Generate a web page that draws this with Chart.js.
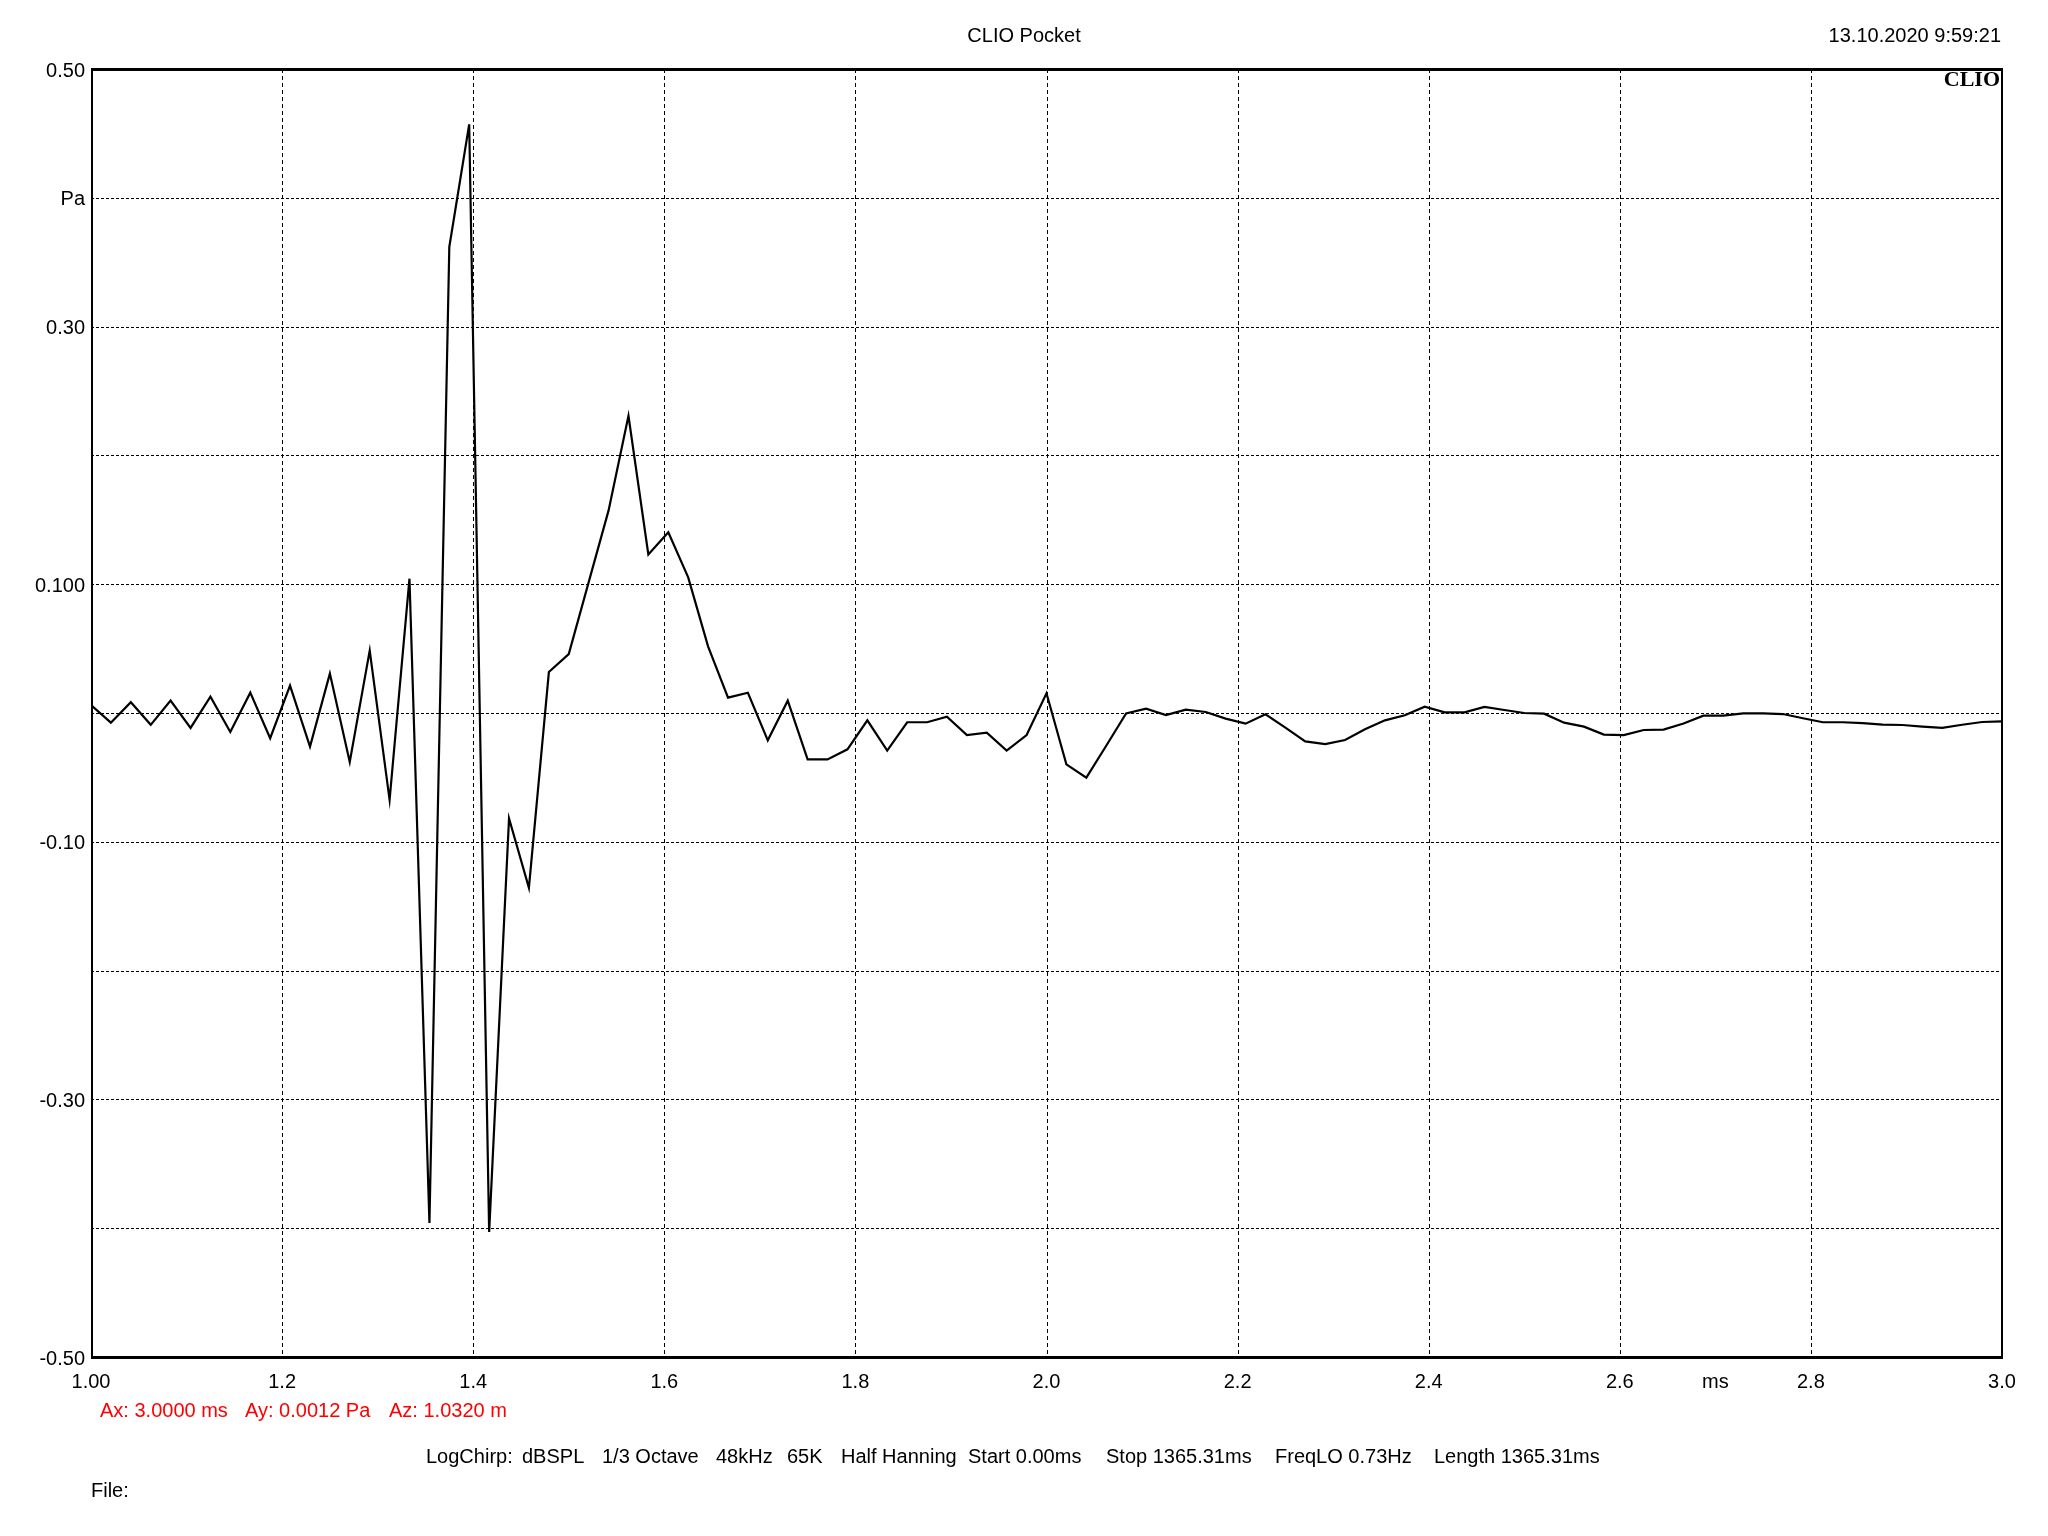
<!DOCTYPE html>
<html>
<head>
<meta charset="utf-8">
<script src="https://cdn.jsdelivr.net/npm/chart.js@4.4.1/dist/chart.umd.min.js"></script>
<style>
  html, body { margin: 0; padding: 0; background: #ffffff; }
  canvas { display: block; }
</style>
</head>
<body>
<canvas id="c" width="2048" height="1536"></canvas>
<script>
// ---- Data (sample times in ms, 48 kHz sampling) ----
const timesMs = [
  1.0000, 1.0208, 1.0417, 1.0625, 1.0833, 1.1042, 1.1250, 1.1458, 1.1667, 1.1875,
  1.2083, 1.2292, 1.2500, 1.2708, 1.2917, 1.3125, 1.3333, 1.3542, 1.3750, 1.3958,
  1.4167, 1.4375, 1.4583, 1.4792, 1.5000, 1.5208, 1.5417, 1.5625, 1.5833, 1.6042,
  1.6250, 1.6458, 1.6667, 1.6875, 1.7083, 1.7292, 1.7500, 1.7708, 1.7917, 1.8125,
  1.8333, 1.8542, 1.8750, 1.8958, 1.9167, 1.9375, 1.9583, 1.9792, 2.0000, 2.0208,
  2.0417, 2.0625, 2.0833, 2.1042, 2.1250, 2.1458, 2.1667, 2.1875, 2.2083, 2.2292,
  2.2500, 2.2708, 2.2917, 2.3125, 2.3333, 2.3542, 2.3750, 2.3958, 2.4167, 2.4375,
  2.4583, 2.4792, 2.5000, 2.5208, 2.5417, 2.5625, 2.5833, 2.6042, 2.6250, 2.6458,
  2.6667, 2.6875, 2.7083, 2.7292, 2.7500, 2.7708, 2.7917, 2.8125, 2.8333, 2.8542,
  2.8750, 2.8958, 2.9167, 2.9375, 2.9583, 2.9792, 3.0000
];
const pressurePa = [
  0.0062, -0.0075, 0.0084, -0.0092, 0.0096, -0.0116, 0.0127, -0.0147, 0.0158, -0.0196,
  0.0213, -0.0261, 0.0306, -0.0380, 0.0484, -0.0675, 0.1043, -0.3960, 0.3620, 0.4570,
  -0.4030, -0.0818, -0.1358, 0.0318, 0.0457, 0.1014, 0.1573, 0.2307, 0.1231, 0.1403,
  0.1053, 0.0518, 0.0119, 0.0157, -0.0212, 0.0096, -0.0360, -0.0360, -0.0282, -0.0057,
  -0.0292, -0.0072, -0.0072, -0.0028, -0.0171, -0.0153, -0.0292, -0.0171, 0.0153, -0.0399,
  -0.0502, -0.0254, -0.0003, 0.0034, -0.0016, 0.0026, 0.0008, -0.0044, -0.0083, -0.0010,
  -0.0114, -0.0220, -0.0241, -0.0210, -0.0127, -0.0057, -0.0018, 0.0049, 0.0005, 0.0005,
  0.0047, 0.0023, 0.0000, -0.0005, -0.0075, -0.0106, -0.0168, -0.0171, -0.0132, -0.0129,
  -0.0082, -0.0021, -0.0021, -0.0003, -0.0003, -0.0008, -0.0041, -0.0072, -0.0072, -0.0078,
  -0.0091, -0.0093, -0.0106, -0.0116, -0.0091, -0.0070, -0.0065
];

// ---- Tick labels ----
const xTickValues = [1.0, 1.2, 1.4, 1.6, 1.8, 2.0, 2.2, 2.4, 2.6, 2.7, 2.8, 3.0];
const xTickLabels = ["1.00", "1.2", "1.4", "1.6", "1.8", "2.0", "2.2", "2.4", "2.6", "ms", "2.8", "3.0"];
const xGridValues = [1.2, 1.4, 1.6, 1.8, 2.0, 2.2, 2.4, 2.6, 2.8];
const yTickValues = [0.5, 0.4, 0.3, 0.2, 0.1, 0.0, -0.1, -0.2, -0.3, -0.4, -0.5];
const yTickLabels = ["0.50", "Pa", "0.30", "", "0.100", "", "-0.10", "", "-0.30", "", "-0.50"];
const yGridValues = [0.4, 0.3, 0.2, 0.1, 0.0, -0.1, -0.2, -0.3, -0.4];

// ---- Texts ----
const titleText = "CLIO Pocket";
const dateText = "13.10.2020 9:59:21";
const logoText = "CLIO";
const cursorTexts = ["Ax: 3.0000 ms", "Ay: 0.0012 Pa", "Az: 1.0320 m"];
const footerTexts = ["LogChirp:", "dBSPL", "1/3 Octave", "48kHz", "65K", "Half Hanning",
  "Start 0.00ms", "Stop 1365.31ms", "FreqLO 0.73Hz", "Length 1365.31ms"];
const fileText = "File:";

const FONT = '"Liberation Sans", Arial, sans-serif';

const points = timesMs.map((t, i) => ({ x: t, y: pressurePa[i] }));

const decorPlugin = {
  id: 'decor',
  beforeDraw(chart) {
    const ctx = chart.ctx;
    ctx.save();
    ctx.fillStyle = '#ffffff';
    ctx.fillRect(0, 0, chart.width, chart.height);
    ctx.restore();
  },
  beforeDatasetsDraw(chart) {
    const ctx = chart.ctx;
    const a = chart.chartArea;
    const xs = chart.scales.x, ys = chart.scales.y;
    ctx.save();
    ctx.strokeStyle = '#000000';
    ctx.lineWidth = 1;
    ctx.setLineDash([3, 2]);
    yGridValues.forEach(v => {
      const py = Math.round(ys.getPixelForValue(v)) + 0.5;
      ctx.beginPath();
      ctx.moveTo(a.left, py);
      ctx.lineTo(a.right, py);
      ctx.stroke();
    });
    ctx.setLineDash([4, 3]);
    xGridValues.forEach(v => {
      const px = Math.round(xs.getPixelForValue(v)) + 0.5;
      ctx.beginPath();
      ctx.moveTo(px, a.top);
      ctx.lineTo(px, a.bottom);
      ctx.stroke();
    });
    ctx.restore();
  },
  afterDatasetsDraw(chart) {
    const ctx = chart.ctx;
    const a = chart.chartArea;
    ctx.save();
    ctx.strokeStyle = '#000000';
    ctx.setLineDash([]);
    ctx.lineWidth = 3;
    ctx.beginPath();
    ctx.moveTo(a.left, a.top + 0.5); ctx.lineTo(a.right + 1, a.top + 0.5);
    ctx.moveTo(a.left, a.bottom + 0.5); ctx.lineTo(a.right + 1, a.bottom + 0.5);
    ctx.stroke();
    ctx.lineWidth = 2;
    ctx.beginPath();
    ctx.moveTo(a.left + 1, a.top); ctx.lineTo(a.left + 1, a.bottom);
    ctx.moveTo(a.right, a.top); ctx.lineTo(a.right, a.bottom);
    ctx.stroke();

    // logo
    ctx.fillStyle = '#000000';
    ctx.font = 'bold 22px "Liberation Serif", "Times New Roman", serif';
    ctx.textAlign = 'right';
    ctx.textBaseline = 'alphabetic';
    ctx.fillText(logoText, a.right - 2, a.top + 17);

    // title and date
    ctx.font = '20px ' + FONT;
    ctx.textBaseline = 'middle';
    ctx.textAlign = 'center';
    ctx.fillText(titleText, 1024, 36);
    ctx.textAlign = 'right';
    ctx.fillText(dateText, 2001, 36);

    // cursor texts (red)
    ctx.fillStyle = '#ff0000';
    ctx.textAlign = 'left';
    const cursorX = [100, 245, 389];
    cursorTexts.forEach((t, i) => ctx.fillText(t, cursorX[i], 1411));

    // footer
    ctx.fillStyle = '#000000';
    const footX = [426, 522, 602, 716, 787, 841, 968, 1106, 1275, 1434];
    footerTexts.forEach((t, i) => ctx.fillText(t, footX[i], 1457));

    ctx.fillText(fileText, 91, 1491);
    ctx.restore();
  }
};

new Chart(document.getElementById('c'), {
  type: 'line',
  data: {
    datasets: [{
      data: points,
      borderColor: '#000000',
      borderWidth: 2.2,
      pointRadius: 0,
      fill: false,
      tension: 0
    }]
  },
  options: {
    responsive: false,
    animation: false,
    devicePixelRatio: 1,
    layout: { padding: { top: 69, right: 46, left: 0, bottom: 0 } },
    plugins: { legend: { display: false }, tooltip: { enabled: false }, title: { display: false } },
    scales: {
      x: {
        type: 'linear',
        min: 1.0, max: 3.0,
        afterBuildTicks: (scale) => { scale.ticks = xTickValues.map(v => ({ value: v })); },
        afterFit: (scale) => { scale.height = 179; },
        grid: { display: false, drawTicks: false },
        border: { display: false },
        ticks: {
          autoSkip: false,
          maxRotation: 0,
          padding: 13,
          color: '#000000',
          font: { family: FONT, size: 20 },
          callback: (value) => {
            const idx = xTickValues.findIndex(v => Math.abs(v - value) < 1e-9);
            return idx >= 0 ? xTickLabels[idx] : '';
          }
        }
      },
      y: {
        type: 'linear',
        min: -0.5, max: 0.5,
        afterBuildTicks: (scale) => { scale.ticks = yTickValues.map(v => ({ value: v })); },
        afterFit: (scale) => { scale.width = 91; },
        grid: { display: false, drawTicks: false },
        border: { display: false },
        ticks: {
          autoSkip: false,
          padding: 6,
          labelOffset: 2,
          color: '#000000',
          font: { family: FONT, size: 20 },
          callback: (value) => {
            const idx = yTickValues.findIndex(v => Math.abs(v - value) < 1e-9);
            return idx >= 0 ? yTickLabels[idx] : '';
          }
        }
      }
    }
  },
  plugins: [decorPlugin]
});
</script>
</body>
</html>
